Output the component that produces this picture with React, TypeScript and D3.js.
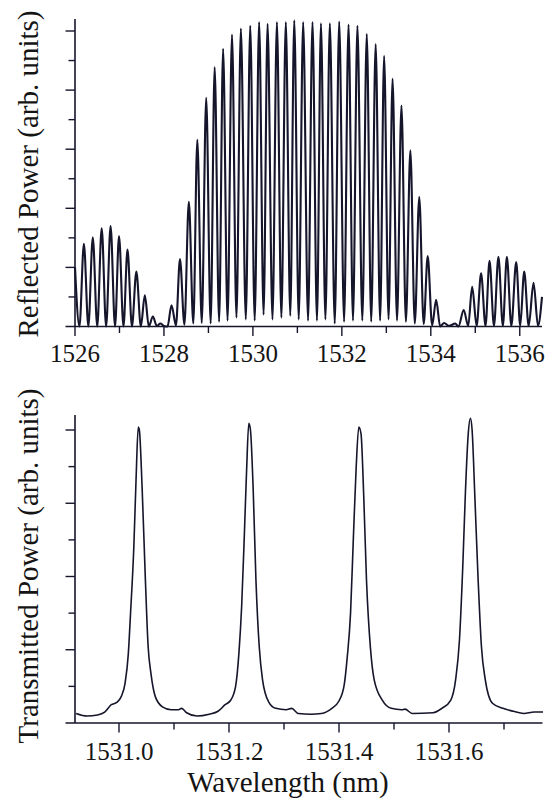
import React from "react";
import * as d3 from "d3";

// ---------- Top panel: reflected spectrum (peaks and dips) ----------
const reflWavelength = [
  1526.0, 1526.1, 1526.2, 1526.3, 1526.4, 1526.5, 1526.6, 1526.7, 1526.8, 1526.9,
  1526.99, 1527.09, 1527.18, 1527.28, 1527.38, 1527.48, 1527.57, 1527.66, 1527.75, 1527.84,
  1527.92, 1528.0, 1528.08, 1528.17, 1528.27, 1528.36, 1528.46, 1528.56, 1528.66, 1528.75,
  1528.85, 1528.95, 1529.05, 1529.14, 1529.24, 1529.33, 1529.43, 1529.53, 1529.63, 1529.73,
  1529.84, 1529.94, 1530.04, 1530.14, 1530.24, 1530.33, 1530.44, 1530.54, 1530.64, 1530.74,
  1530.84, 1530.93, 1531.03, 1531.13, 1531.24, 1531.34, 1531.44, 1531.53, 1531.63, 1531.73,
  1531.84, 1531.94, 1532.05, 1532.15, 1532.25, 1532.35, 1532.46, 1532.56, 1532.66, 1532.76,
  1532.86, 1532.95, 1533.05, 1533.14, 1533.24, 1533.34, 1533.44, 1533.54, 1533.64, 1533.74,
  1533.84, 1533.93, 1534.03, 1534.12, 1534.21, 1534.3, 1534.41, 1534.55, 1534.62, 1534.74,
  1534.84, 1534.93, 1535.03, 1535.13, 1535.23, 1535.32, 1535.42, 1535.52, 1535.62, 1535.71,
  1535.81, 1535.92, 1536.01, 1536.1, 1536.2, 1536.31, 1536.41, 1536.5,
];
const reflPower = [
  1.0, 0.0, 1.4, 0.0, 1.51, 0.0, 1.66, 0.0, 1.7, 0.0,
  1.53, 0.0, 1.3, 0.0, 0.93, 0.0, 0.53, 0.0, 0.17, 0.01,
  0.05, 0.01, 0.0, 0.36, 0.02, 1.14, 0.03, 2.11, 0.05, 3.16,
  0.06, 3.87, 0.05, 4.39, 0.08, 4.7, 0.1, 4.94, 0.15, 5.04,
  0.12, 5.09, 0.1, 5.15, 0.2, 5.12, 0.12, 5.15, 0.15, 5.15,
  0.18, 5.18, 0.12, 5.15, 0.1, 5.15, 0.1, 5.13, 0.12, 5.13,
  0.05, 5.16, 0.08, 5.11, 0.1, 5.09, 0.1, 4.95, 0.08, 4.78,
  0.1, 4.58, 0.12, 4.19, 0.1, 3.74, 0.08, 2.98, 0.05, 2.19,
  0.04, 1.19, 0.02, 0.45, 0.0, 0.06, 0.01, 0.05, 0.0, 0.28,
  0.01, 0.67, 0.01, 0.9, 0.01, 1.11, 0.01, 1.18, 0.01, 1.18,
  0.01, 1.09, 0.01, 0.93, 0.01, 0.74, 0.01, 0.5,
];
const reflXMajor = [1526, 1528, 1530, 1532, 1534, 1536];
const reflXMinor = [1527, 1529, 1531, 1533, 1535];
const reflYMajor = [1, 2, 3, 4, 5];
const reflYMinor = [0.5, 1.5, 2.5, 3.5, 4.5];

// ---------- Bottom panel: transmitted spectrum ----------
const transWavelength = [
  1530.922, 1530.942, 1530.961, 1530.974, 1530.986, 1530.996, 1531.004, 1531.011, 1531.017, 1531.021,
  1531.027, 1531.031, 1531.035, 1531.037, 1531.042, 1531.048, 1531.053, 1531.058, 1531.066, 1531.079,
  1531.095, 1531.107, 1531.114, 1531.123, 1531.142, 1531.164, 1531.18, 1531.193, 1531.203, 1531.212,
  1531.218, 1531.223, 1531.228, 1531.232, 1531.236, 1531.239, 1531.244, 1531.249, 1531.255, 1531.261,
  1531.272, 1531.285, 1531.304, 1531.314, 1531.326, 1531.349, 1531.368, 1531.387, 1531.399, 1531.409,
  1531.415, 1531.421, 1531.426, 1531.431, 1531.436, 1531.44, 1531.445, 1531.45, 1531.457, 1531.464,
  1531.479, 1531.495, 1531.514, 1531.52, 1531.533, 1531.571, 1531.587, 1531.603, 1531.612, 1531.619,
  1531.625, 1531.63, 1531.635, 1531.639, 1531.642, 1531.647, 1531.653, 1531.659, 1531.666, 1531.679,
  1531.698, 1531.717, 1531.736, 1531.755, 1531.771,
];
const transPower = [
  0.13, 0.095, 0.11, 0.15, 0.25, 0.28, 0.36, 0.54, 0.95, 1.5,
  2.41, 3.32, 4.04, 4.0, 3.22, 1.95, 1.04, 0.68, 0.36, 0.22,
  0.18, 0.18, 0.2, 0.14, 0.095, 0.12, 0.16, 0.25, 0.31, 0.5,
  0.95, 1.59, 2.59, 3.45, 4.09, 4.0, 3.18, 1.95, 1.04, 0.59,
  0.29, 0.2, 0.18, 0.2, 0.13, 0.12, 0.13, 0.2, 0.29, 0.5,
  0.9, 1.5, 2.5, 3.45, 4.04, 3.95, 3.09, 1.95, 1.04, 0.59,
  0.31, 0.2, 0.18, 0.19, 0.13, 0.14, 0.2, 0.31, 0.59, 1.13,
  2.13, 3.18, 3.95, 4.16, 4.0, 3.09, 1.95, 1.04, 0.59, 0.27,
  0.2, 0.16, 0.13, 0.15, 0.15,
];
const transXMajor = [1531.0, 1531.2, 1531.4, 1531.6];
const transXMinor = [1531.1, 1531.3, 1531.5, 1531.7];
const transYMajor = [1, 2, 3, 4];
const transYMinor = [0.5, 1.5, 2.5, 3.5];

const LINE = "#15152b";
const TEXT = "#141414";
const FONT = "Liberation Serif";

type PanelProps = {
  xs: number[];
  ys: number[];
  xDomain: [number, number];
  yDomain: [number, number];
  xRange: [number, number];
  yRange: [number, number];
  yAxisTop: number;
  xMajor: number[];
  xMinor: number[];
  yMajor: number[];
  yMinor: number[];
  fmt: (v: number) => string;
  labelY: number;
  yTitle: string;
  yTitleCenter: number;
  lineWidth: number;
};

function Panel(p: PanelProps) {
  const x = d3.scaleLinear().domain(p.xDomain).range(p.xRange);
  const y = d3.scaleLinear().domain(p.yDomain).range(p.yRange);
  const pts = p.xs.map((v, i) => [v, p.ys[i]] as [number, number]);
  const line = d3
    .line<[number, number]>()
    .x((d) => x(d[0]))
    .y((d) => y(d[1]))
    .curve(d3.curveMonotoneX);
  const x0 = p.xRange[0];
  const y0 = p.yRange[0];
  return (
    <g>
      <path d={line(pts) || ""} fill="none" stroke={LINE} strokeWidth={p.lineWidth} strokeLinejoin="round" />
      <line x1={x0} x2={x0} y1={p.yAxisTop} y2={y0} stroke={LINE} strokeWidth={1.6} />
      <line x1={x0 - 9.5} x2={p.xRange[1]} y1={y0} y2={y0} stroke={LINE} strokeWidth={1.6} />
      {p.yMajor.map((t) => (
        <line key={"ym" + t} x1={x0 - 9.5} x2={x0} y1={y(t)} y2={y(t)} stroke={LINE} strokeWidth={1.4} />
      ))}
      {p.yMinor.map((t) => (
        <line key={"yn" + t} x1={x0 - 6.5} x2={x0} y1={y(t)} y2={y(t)} stroke={LINE} strokeWidth={1.4} />
      ))}
      {p.xMajor.map((t) => (
        <line key={"xm" + t} x1={x(t)} x2={x(t)} y1={y0} y2={y0 + 9.5} stroke={LINE} strokeWidth={1.4} />
      ))}
      {p.xMinor.map((t) => (
        <line key={"xn" + t} x1={x(t)} x2={x(t)} y1={y0} y2={y0 + 6.5} stroke={LINE} strokeWidth={1.4} />
      ))}
      {p.xMajor.map((t) => (
        <text key={"xl" + t} x={x(t)} y={p.labelY} textAnchor="middle" fill={TEXT} style={{ fontFamily: FONT, fontSize: 25 }}>
          {p.fmt(t)}
        </text>
      ))}
      <text
        transform={`translate(37.5,${p.yTitleCenter}) rotate(-90)`}
        textAnchor="middle"
        fill={TEXT}
        style={{ fontFamily: FONT, fontSize: 29 }}
      >
        {p.yTitle}
      </text>
    </g>
  );
}

export default function App() {
  return (
    <svg
      width={548}
      height={801}
      style={{ position: "absolute", left: 0, top: 0, background: "#fff" }}
    >
      <rect width={548} height={801} fill="#fff" />
      <Panel
        xs={reflWavelength}
        ys={reflPower}
        xDomain={[1526, 1536.5]}
        yDomain={[0, 5]}
        xRange={[75, 542]}
        yRange={[326.5, 31]}
        yAxisTop={19}
        xMajor={reflXMajor}
        xMinor={reflXMinor}
        yMajor={reflYMajor}
        yMinor={reflYMinor}
        fmt={d3.format("d")}
        labelY={362}
        yTitle="Reflected Power (arb. units)"
        yTitleCenter={174}
        lineWidth={2.1}
      />
      <Panel
        xs={transWavelength}
        ys={transPower}
        xDomain={[1530.92, 1531.77]}
        yDomain={[0, 4]}
        xRange={[75, 542.5]}
        yRange={[723, 430]}
        yAxisTop={415}
        xMajor={transXMajor}
        xMinor={transXMinor}
        yMajor={transYMajor}
        yMinor={transYMinor}
        fmt={d3.format(".1f")}
        labelY={760}
        yTitle="Transmitted Power (arb. units)"
        yTitleCenter={566}
        lineWidth={1.6}
      />
      <text x={288} y={792} textAnchor="middle" fill={TEXT} style={{ fontFamily: FONT, fontSize: 29 }}>
        Wavelength (nm)
      </text>
    </svg>
  );
}
